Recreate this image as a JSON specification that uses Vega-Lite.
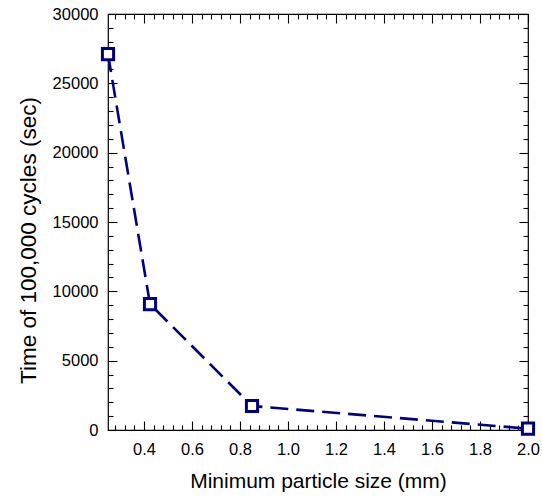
{
  "$schema": "https://vega.github.io/schema/vega-lite/v6.json",
  "autosize": "none",
  "width": 420,
  "height": 416,
  "padding": {"left": 108, "top": 14, "right": 14, "bottom": 69},
  "background": "white",
  "config": {
    "font": "Liberation Sans",
    "view": {"stroke": "black", "strokeWidth": 1.2},
    "axis": {
      "domain": false,
      "grid": false,
      "ticks": true,
      "tickColor": "black",
      "tickWidth": 1.1,
      "tickOpacity": 1,
      "labelColor": "black",
      "titleColor": "black",
      "labelFont": "Liberation Sans",
      "titleFont": "Liberation Sans",
      "labelFontSize": 16,
      "titleFontSize": 21,
      "titleFontWeight": "normal"
    }
  },
  "data": {
    "values": [
      {"size": 0.25, "time": 27100},
      {"size": 0.425, "time": 9080},
      {"size": 0.85, "time": 1730},
      {"size": 2.0, "time": 100}
    ]
  },
  "resolve": {"axis": {"x": "independent", "y": "independent"}},
  "layer": [
    {
      "mark": {"type": "line", "color": "#000080", "strokeWidth": 2.6, "strokeDash": [18, 8]},
      "encoding": {
        "x": {
          "field": "size", "type": "quantitative",
          "scale": {"domain": [0.25, 2.0], "nice": false, "zero": false},
          "axis": {
            "orient": "bottom",
            "values": [0.4, 0.6, 0.8, 1.0, 1.2, 1.4, 1.6, 1.8, 2.0],
            "format": ".1f",
            "offset": -9,
            "tickSize": 9,
            "labelFontSize": 16.5,
            "labelPadding": 11,
            "labelFlush": false,
            "title": "Minimum particle size (mm)",
            "titlePadding": 13
          }
        },
        "y": {
          "field": "time", "type": "quantitative",
          "scale": {"domain": [0, 30000], "nice": false},
          "axis": {
            "orient": "left",
            "values": [0, 5000, 10000, 15000, 20000, 25000, 30000],
            "format": "d",
            "offset": -9,
            "tickSize": 9,
            "labelFontSize": 16.5,
            "labelPadding": 10,
            "labelFlush": false,
            "title": "Time of 100,000 cycles (sec)",
            "titleFontSize": 22.5,
            "titlePadding": 12,
            "titleY": 226
          }
        }
      }
    },
    {
      "mark": {"type": "point", "shape": "square", "size": 125, "filled": false, "fill": "white", "stroke": "#000080", "strokeWidth": 3, "opacity": 1},
      "encoding": {
        "x": {
          "field": "size", "type": "quantitative",
          "axis": {
            "orient": "top",
            "values": [0.4, 0.6, 0.8, 1.0, 1.2, 1.4, 1.6, 1.8, 2.0],
            "offset": -9,
            "tickSize": 9,
            "labels": false,
            "title": null
          }
        },
        "y": {
          "field": "time", "type": "quantitative",
          "axis": {
            "orient": "right",
            "values": [0, 5000, 10000, 15000, 20000, 25000, 30000],
            "offset": -9,
            "tickSize": 9,
            "labels": false,
            "title": null
          }
        }
      }
    },
    {
      "mark": {"type": "point", "opacity": 0},
      "encoding": {
        "x": {
          "field": "size", "type": "quantitative",
          "axis": {
            "orient": "bottom",
            "values": [0.28, 0.32, 0.36, 0.44, 0.48, 0.52, 0.56, 0.64, 0.68, 0.72, 0.76, 0.84, 0.88, 0.92, 0.96, 1.04, 1.08, 1.12, 1.16, 1.24, 1.28, 1.32, 1.36, 1.44, 1.48, 1.52, 1.56, 1.64, 1.68, 1.72, 1.76, 1.84, 1.88, 1.92, 1.96],
            "offset": -5,
            "tickSize": 5,
            "labels": false,
            "title": null
          }
        },
        "y": {
          "field": "time", "type": "quantitative",
          "axis": {
            "orient": "left",
            "values": [1000, 2000, 3000, 4000, 6000, 7000, 8000, 9000, 11000, 12000, 13000, 14000, 16000, 17000, 18000, 19000, 21000, 22000, 23000, 24000, 26000, 27000, 28000, 29000],
            "offset": -5,
            "tickSize": 5,
            "labels": false,
            "title": null
          }
        }
      }
    },
    {
      "mark": {"type": "point", "opacity": 0},
      "encoding": {
        "x": {
          "field": "size", "type": "quantitative",
          "axis": {
            "orient": "top",
            "values": [0.28, 0.32, 0.36, 0.44, 0.48, 0.52, 0.56, 0.64, 0.68, 0.72, 0.76, 0.84, 0.88, 0.92, 0.96, 1.04, 1.08, 1.12, 1.16, 1.24, 1.28, 1.32, 1.36, 1.44, 1.48, 1.52, 1.56, 1.64, 1.68, 1.72, 1.76, 1.84, 1.88, 1.92, 1.96],
            "offset": -5,
            "tickSize": 5,
            "labels": false,
            "title": null
          }
        },
        "y": {
          "field": "time", "type": "quantitative",
          "axis": {
            "orient": "right",
            "values": [1000, 2000, 3000, 4000, 6000, 7000, 8000, 9000, 11000, 12000, 13000, 14000, 16000, 17000, 18000, 19000, 21000, 22000, 23000, 24000, 26000, 27000, 28000, 29000],
            "offset": -5,
            "tickSize": 5,
            "labels": false,
            "title": null
          }
        }
      }
    }
  ]
}
